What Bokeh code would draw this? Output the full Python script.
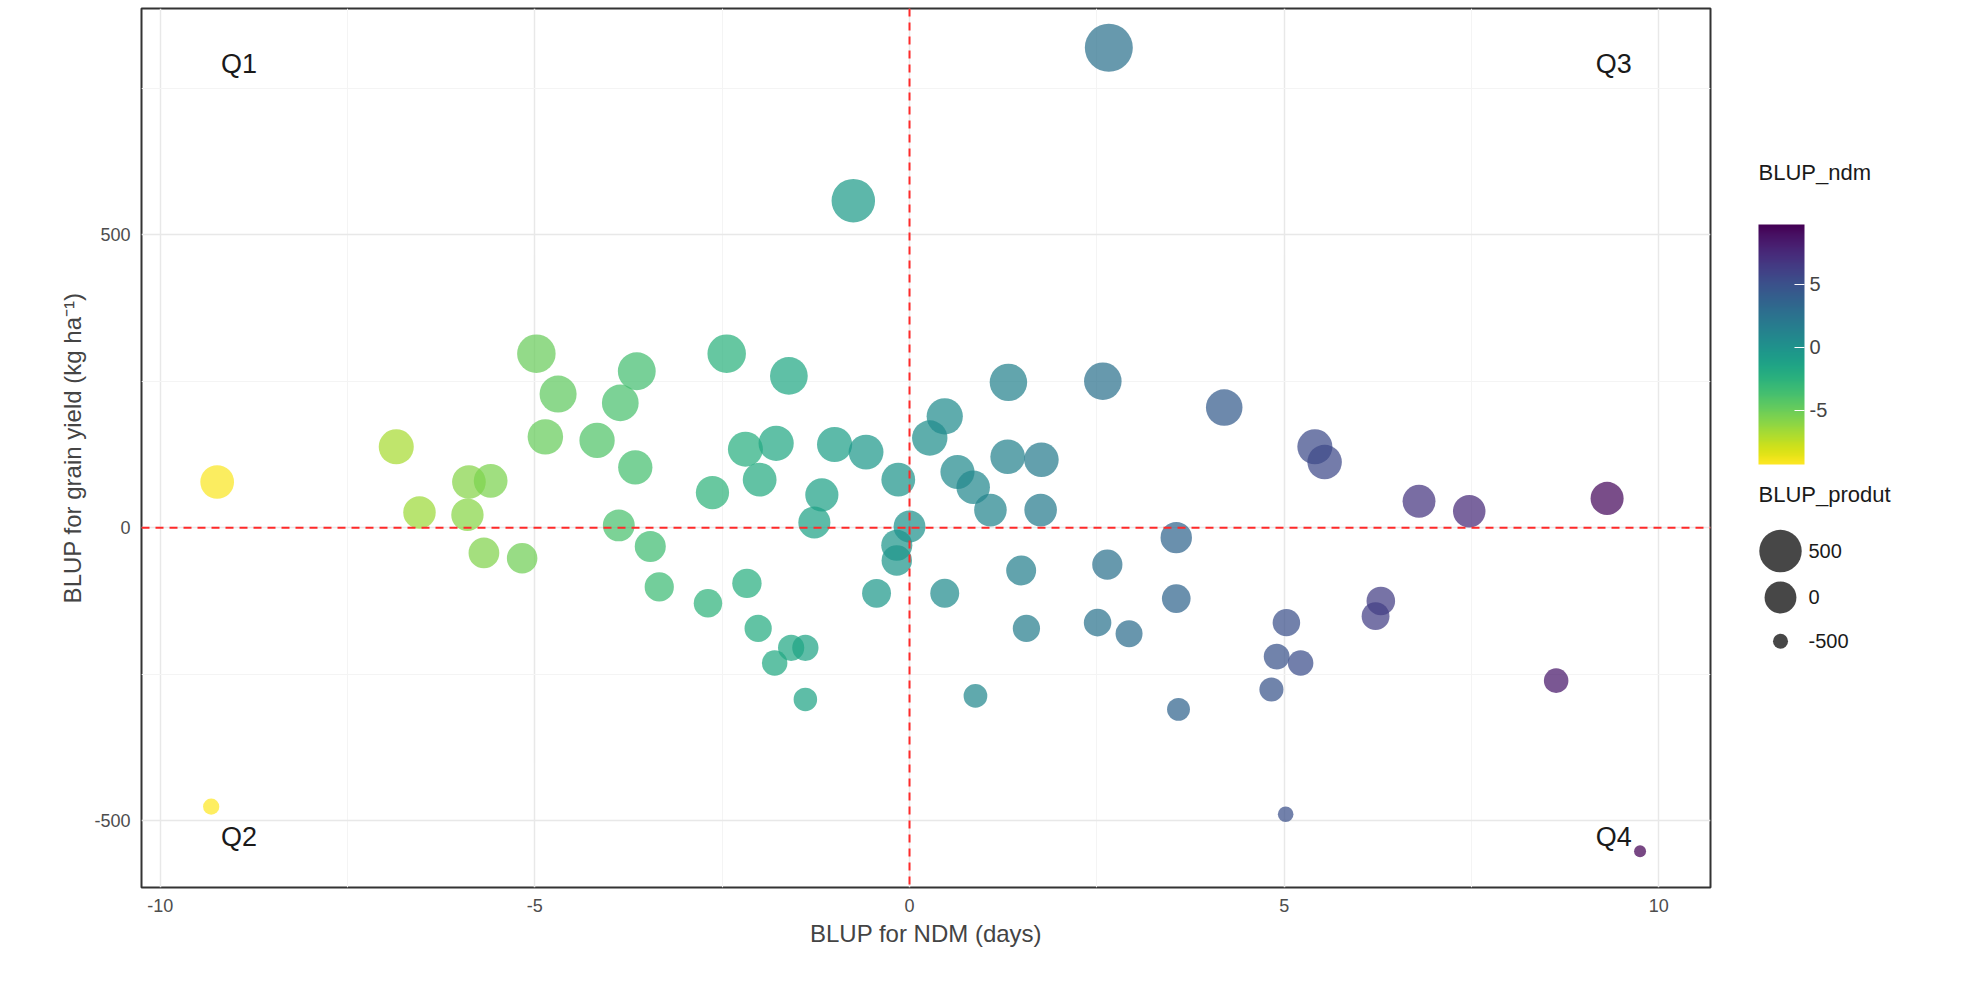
from bokeh.plotting import figure
from bokeh.layouts import row
from bokeh.models import (ColumnDataSource, LinearColorMapper, ColorBar, Span,
                          FixedTicker, Range1d, PrintfTickFormatter)
from bokeh.core.properties import value
from bokeh.palettes import Viridis256
from bokeh.transform import transform
from bokeh.embed import file_html
from bokeh.resources import INLINE
import numpy as np

blup_ndm = [-9.24,-9.32,2.66,-0.75,-6.85,-6.54,-5.88,-5.59,-5.9,-5.68,-5.17,-4.98,-4.69,-4.86,-4.17,-3.86,
            -3.64,-3.66,-3.88,-3.46,-3.34,-2.69,-2.63,-2.44,-2.19,-2.0,-1.78,-1.61,-2.17,-2.02,-1.8,-1.58,
            -1.39,-1.39,-1.27,-1.17,-1.0,-0.58,-0.44,-0.15,-0.17,-0.17,0.0,0.27,0.47,0.64,0.85,1.08,0.47,
            0.88,1.32,1.31,1.76,1.75,1.49,1.56,2.58,2.64,2.51,2.93,3.56,3.56,3.59,4.2,5.41,5.54,5.03,4.9,
            5.22,4.83,5.02,6.29,6.22,6.8,7.47,8.63,9.31,9.75]
blup_gy = [78,-476,819,558,138,26,78,80,22,-43,-52,297,228,155,149,213,267,103,4,-32,-101,-129,60,297,
           134,82,144,259,-95,-172,-231,-205,-205,-293,9,56,142,129,-112,82,-30,-56,2,153,190,95,69,30,
           -112,-287,248,121,116,30,-73,-172,250,-63,-162,-181,-17,-121,-310,205,138,112,-162,-220,-231,
           -276,-489,-125,-151,45,28,-261,50,-552]
blup_produt = list(blup_gy)
x_ticks = [-10, -5, 0, 5, 10]
y_ticks = [-500, 0, 500]
size_legend_vals = [500, 0, -500]
cbar_ticks = [-5, 0, 5]
quadrants = ["Q1", "Q2", "Q3", "Q4"]
q_x = [-8.95, -8.95, 9.4, 9.4]
q_y = [791, -528, 791, -528]

FONT = "Liberation Sans"
pmin, pmax = min(blup_produt), max(blup_produt)
def diam(v):
    return float(np.sqrt(144 + 2160 * (v - pmin) / (pmax - pmin)))

pal = list(Viridis256)[::-1]
mapper = LinearColorMapper(palette=pal, low=min(blup_ndm), high=max(blup_ndm))

src = ColumnDataSource(dict(x=blup_ndm, y=blup_gy, s=[diam(v) for v in blup_produt]))

p = figure(width=1720, height=985, output_backend="svg", toolbar_location=None,
           x_range=Range1d(-10.25, 10.69), y_range=Range1d(-614, 886),
           min_border_left=141, min_border_top=8, min_border_bottom=98, min_border_right=10)
p.outline_line_color = "#333333"
p.outline_line_width = 2
p.background_fill_color = "white"
for ax in (p.xaxis, p.yaxis):
    ax.axis_line_color = None
    ax.major_tick_line_color = None
    ax.minor_tick_line_color = None
    ax.major_label_text_color = "#4d4d4d"
    ax.major_label_text_font_size = "18px"
    ax.major_label_text_font = FONT
    ax.axis_label_text_font_size = "24px"
    ax.axis_label_text_font_style = "normal"
    ax.axis_label_text_font = FONT
    ax.formatter = PrintfTickFormatter(format="%d")
p.xaxis.ticker = FixedTicker(ticks=x_ticks, minor_ticks=[-7.5, -2.5, 2.5, 7.5])
p.yaxis.ticker = FixedTicker(ticks=y_ticks, minor_ticks=[-250, 250, 750])
p.xaxis.axis_label = "BLUP for NDM (days)"
p.yaxis.axis_label = "BLUP for grain yield (kg ha\u207b\u00b9)"
p.grid.grid_line_color = "#e8e8e8"
p.grid.grid_line_width = 1.5
p.grid.minor_grid_line_color = "#f4f4f4"

p.scatter("x", "y", size="s", source=src, fill_color=transform("x", mapper),
          line_color=None, fill_alpha=0.72)
p.add_layout(Span(location=0, dimension="height", line_color="#ff2a2a", line_dash="8 6", line_width=2))
p.add_layout(Span(location=0, dimension="width", line_color="#ff2a2a", line_dash="8 6", line_width=2))
p.text(x=q_x, y=q_y, text=quadrants, text_align="center", text_baseline="middle",
       text_font_size="27px", text_color="#1a1a1a", text_font=value(FONT))

s = figure(width=240, height=985, output_backend="svg", toolbar_location=None,
           x_range=Range1d(0, 240), y_range=Range1d(0, 985),
           min_border=0, min_border_left=0, min_border_right=0, min_border_top=0, min_border_bottom=0)
s.axis.visible = False
s.grid.visible = False
s.outline_line_color = None

cb = ColorBar(color_mapper=mapper, ticker=FixedTicker(ticks=cbar_ticks), width=46, height=240,
              location=(38, 423), padding=0,
              major_label_text_font_size="20px", major_label_text_font=FONT,
              formatter=PrintfTickFormatter(format="%d"),
              major_tick_line_color="white", major_tick_in=10, major_tick_out=0,
              bar_line_color=None, background_fill_color=None, border_line_color=None)
s.add_layout(cb, "center")

base = 985 + 8
s.text(x=[38, 38], y=[base - 192, base - 553], text=["BLUP_ndm", "BLUP_produt"], text_baseline="middle",
       text_font_size="22px", text_font=value(FONT), text_color="#1a1a1a")
ly = [base - 616, base - 668, base - 717]
s.scatter(x=[60, 60, 60], y=ly, size=[diam(v) for v in size_legend_vals], fill_color="#333333",
          fill_alpha=0.9, line_color=None)
s.text(x=[88, 88, 88], y=ly, text=[str(v) for v in size_legend_vals], text_baseline="middle",
       text_font_size="20px", text_font=value(FONT), text_color="#1a1a1a")

layout = row(p, s)
open("out.html", "w").write(file_html(layout, INLINE))
